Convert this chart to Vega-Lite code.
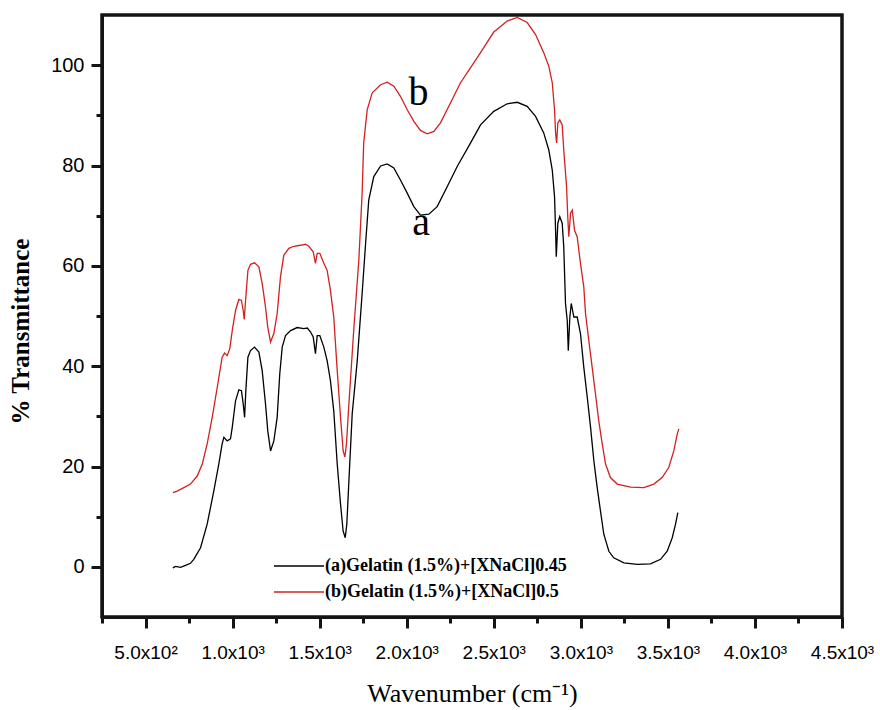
{
  "$schema": "https://vega.github.io/schema/vega-lite/v6.json",
  "width": 740,
  "height": 602,
  "autosize": {"type": "none"},
  "padding": {"left": 102, "top": 15, "right": 38, "bottom": 93},
  "background": "white",
  "config": {
    "view": {"stroke": "#141414", "strokeWidth": 3}
  },
  "datasets": {
    "spectra": [
      {"wn": 657, "t": -0.2, "s": "(a)Gelatin (1.5%)+[XNaCl]0.45"},
      {"wn": 672, "t": 0.1, "s": "(a)Gelatin (1.5%)+[XNaCl]0.45"},
      {"wn": 701, "t": -0.1, "s": "(a)Gelatin (1.5%)+[XNaCl]0.45"},
      {"wn": 730, "t": 0.3, "s": "(a)Gelatin (1.5%)+[XNaCl]0.45"},
      {"wn": 758, "t": 0.7, "s": "(a)Gelatin (1.5%)+[XNaCl]0.45"},
      {"wn": 777, "t": 1.5, "s": "(a)Gelatin (1.5%)+[XNaCl]0.45"},
      {"wn": 816, "t": 3.8, "s": "(a)Gelatin (1.5%)+[XNaCl]0.45"},
      {"wn": 854, "t": 8.5, "s": "(a)Gelatin (1.5%)+[XNaCl]0.45"},
      {"wn": 892, "t": 15.1, "s": "(a)Gelatin (1.5%)+[XNaCl]0.45"},
      {"wn": 921, "t": 20.5, "s": "(a)Gelatin (1.5%)+[XNaCl]0.45"},
      {"wn": 940, "t": 24.5, "s": "(a)Gelatin (1.5%)+[XNaCl]0.45"},
      {"wn": 950, "t": 25.8, "s": "(a)Gelatin (1.5%)+[XNaCl]0.45"},
      {"wn": 969, "t": 25.1, "s": "(a)Gelatin (1.5%)+[XNaCl]0.45"},
      {"wn": 988, "t": 25.5, "s": "(a)Gelatin (1.5%)+[XNaCl]0.45"},
      {"wn": 998, "t": 27.8, "s": "(a)Gelatin (1.5%)+[XNaCl]0.45"},
      {"wn": 1017, "t": 33.1, "s": "(a)Gelatin (1.5%)+[XNaCl]0.45"},
      {"wn": 1036, "t": 35.3, "s": "(a)Gelatin (1.5%)+[XNaCl]0.45"},
      {"wn": 1051, "t": 35.1, "s": "(a)Gelatin (1.5%)+[XNaCl]0.45"},
      {"wn": 1061, "t": 32.5, "s": "(a)Gelatin (1.5%)+[XNaCl]0.45"},
      {"wn": 1069, "t": 29.8, "s": "(a)Gelatin (1.5%)+[XNaCl]0.45"},
      {"wn": 1076, "t": 35.1, "s": "(a)Gelatin (1.5%)+[XNaCl]0.45"},
      {"wn": 1088, "t": 41.8, "s": "(a)Gelatin (1.5%)+[XNaCl]0.45"},
      {"wn": 1103, "t": 43.1, "s": "(a)Gelatin (1.5%)+[XNaCl]0.45"},
      {"wn": 1126, "t": 43.8, "s": "(a)Gelatin (1.5%)+[XNaCl]0.45"},
      {"wn": 1151, "t": 42.8, "s": "(a)Gelatin (1.5%)+[XNaCl]0.45"},
      {"wn": 1170, "t": 39.1, "s": "(a)Gelatin (1.5%)+[XNaCl]0.45"},
      {"wn": 1189, "t": 32.5, "s": "(a)Gelatin (1.5%)+[XNaCl]0.45"},
      {"wn": 1202, "t": 27.1, "s": "(a)Gelatin (1.5%)+[XNaCl]0.45"},
      {"wn": 1218, "t": 23.1, "s": "(a)Gelatin (1.5%)+[XNaCl]0.45"},
      {"wn": 1237, "t": 25.1, "s": "(a)Gelatin (1.5%)+[XNaCl]0.45"},
      {"wn": 1256, "t": 29.8, "s": "(a)Gelatin (1.5%)+[XNaCl]0.45"},
      {"wn": 1271, "t": 38.5, "s": "(a)Gelatin (1.5%)+[XNaCl]0.45"},
      {"wn": 1285, "t": 43.8, "s": "(a)Gelatin (1.5%)+[XNaCl]0.45"},
      {"wn": 1304, "t": 46.1, "s": "(a)Gelatin (1.5%)+[XNaCl]0.45"},
      {"wn": 1333, "t": 47.1, "s": "(a)Gelatin (1.5%)+[XNaCl]0.45"},
      {"wn": 1371, "t": 47.7, "s": "(a)Gelatin (1.5%)+[XNaCl]0.45"},
      {"wn": 1409, "t": 47.5, "s": "(a)Gelatin (1.5%)+[XNaCl]0.45"},
      {"wn": 1429, "t": 47.6, "s": "(a)Gelatin (1.5%)+[XNaCl]0.45"},
      {"wn": 1448, "t": 46.8, "s": "(a)Gelatin (1.5%)+[XNaCl]0.45"},
      {"wn": 1463, "t": 45.8, "s": "(a)Gelatin (1.5%)+[XNaCl]0.45"},
      {"wn": 1476, "t": 42.5, "s": "(a)Gelatin (1.5%)+[XNaCl]0.45"},
      {"wn": 1486, "t": 46.1, "s": "(a)Gelatin (1.5%)+[XNaCl]0.45"},
      {"wn": 1501, "t": 46.1, "s": "(a)Gelatin (1.5%)+[XNaCl]0.45"},
      {"wn": 1524, "t": 43.8, "s": "(a)Gelatin (1.5%)+[XNaCl]0.45"},
      {"wn": 1543, "t": 41.1, "s": "(a)Gelatin (1.5%)+[XNaCl]0.45"},
      {"wn": 1562, "t": 37.1, "s": "(a)Gelatin (1.5%)+[XNaCl]0.45"},
      {"wn": 1581, "t": 31.1, "s": "(a)Gelatin (1.5%)+[XNaCl]0.45"},
      {"wn": 1601, "t": 20.5, "s": "(a)Gelatin (1.5%)+[XNaCl]0.45"},
      {"wn": 1620, "t": 12.5, "s": "(a)Gelatin (1.5%)+[XNaCl]0.45"},
      {"wn": 1635, "t": 7.1, "s": "(a)Gelatin (1.5%)+[XNaCl]0.45"},
      {"wn": 1647, "t": 5.8, "s": "(a)Gelatin (1.5%)+[XNaCl]0.45"},
      {"wn": 1656, "t": 8.5, "s": "(a)Gelatin (1.5%)+[XNaCl]0.45"},
      {"wn": 1668, "t": 17.1, "s": "(a)Gelatin (1.5%)+[XNaCl]0.45"},
      {"wn": 1687, "t": 30.5, "s": "(a)Gelatin (1.5%)+[XNaCl]0.45"},
      {"wn": 1716, "t": 41.1, "s": "(a)Gelatin (1.5%)+[XNaCl]0.45"},
      {"wn": 1744, "t": 54.5, "s": "(a)Gelatin (1.5%)+[XNaCl]0.45"},
      {"wn": 1764, "t": 64.5, "s": "(a)Gelatin (1.5%)+[XNaCl]0.45"},
      {"wn": 1782, "t": 73.1, "s": "(a)Gelatin (1.5%)+[XNaCl]0.45"},
      {"wn": 1811, "t": 77.8, "s": "(a)Gelatin (1.5%)+[XNaCl]0.45"},
      {"wn": 1850, "t": 79.9, "s": "(a)Gelatin (1.5%)+[XNaCl]0.45"},
      {"wn": 1888, "t": 80.3, "s": "(a)Gelatin (1.5%)+[XNaCl]0.45"},
      {"wn": 1926, "t": 79.5, "s": "(a)Gelatin (1.5%)+[XNaCl]0.45"},
      {"wn": 1964, "t": 77.1, "s": "(a)Gelatin (1.5%)+[XNaCl]0.45"},
      {"wn": 2003, "t": 74.5, "s": "(a)Gelatin (1.5%)+[XNaCl]0.45"},
      {"wn": 2041, "t": 71.8, "s": "(a)Gelatin (1.5%)+[XNaCl]0.45"},
      {"wn": 2079, "t": 70.1, "s": "(a)Gelatin (1.5%)+[XNaCl]0.45"},
      {"wn": 2127, "t": 70.3, "s": "(a)Gelatin (1.5%)+[XNaCl]0.45"},
      {"wn": 2175, "t": 71.8, "s": "(a)Gelatin (1.5%)+[XNaCl]0.45"},
      {"wn": 2233, "t": 75.8, "s": "(a)Gelatin (1.5%)+[XNaCl]0.45"},
      {"wn": 2290, "t": 79.8, "s": "(a)Gelatin (1.5%)+[XNaCl]0.45"},
      {"wn": 2367, "t": 84.5, "s": "(a)Gelatin (1.5%)+[XNaCl]0.45"},
      {"wn": 2424, "t": 88.1, "s": "(a)Gelatin (1.5%)+[XNaCl]0.45"},
      {"wn": 2500, "t": 90.8, "s": "(a)Gelatin (1.5%)+[XNaCl]0.45"},
      {"wn": 2577, "t": 92.3, "s": "(a)Gelatin (1.5%)+[XNaCl]0.45"},
      {"wn": 2635, "t": 92.6, "s": "(a)Gelatin (1.5%)+[XNaCl]0.45"},
      {"wn": 2692, "t": 91.8, "s": "(a)Gelatin (1.5%)+[XNaCl]0.45"},
      {"wn": 2740, "t": 89.8, "s": "(a)Gelatin (1.5%)+[XNaCl]0.45"},
      {"wn": 2787, "t": 86.5, "s": "(a)Gelatin (1.5%)+[XNaCl]0.45"},
      {"wn": 2816, "t": 83.1, "s": "(a)Gelatin (1.5%)+[XNaCl]0.45"},
      {"wn": 2836, "t": 79.1, "s": "(a)Gelatin (1.5%)+[XNaCl]0.45"},
      {"wn": 2849, "t": 73.8, "s": "(a)Gelatin (1.5%)+[XNaCl]0.45"},
      {"wn": 2855, "t": 67.1, "s": "(a)Gelatin (1.5%)+[XNaCl]0.45"},
      {"wn": 2859, "t": 61.8, "s": "(a)Gelatin (1.5%)+[XNaCl]0.45"},
      {"wn": 2868, "t": 68.5, "s": "(a)Gelatin (1.5%)+[XNaCl]0.45"},
      {"wn": 2879, "t": 69.8, "s": "(a)Gelatin (1.5%)+[XNaCl]0.45"},
      {"wn": 2893, "t": 68.5, "s": "(a)Gelatin (1.5%)+[XNaCl]0.45"},
      {"wn": 2902, "t": 63.8, "s": "(a)Gelatin (1.5%)+[XNaCl]0.45"},
      {"wn": 2912, "t": 52.5, "s": "(a)Gelatin (1.5%)+[XNaCl]0.45"},
      {"wn": 2922, "t": 49.1, "s": "(a)Gelatin (1.5%)+[XNaCl]0.45"},
      {"wn": 2928, "t": 43.1, "s": "(a)Gelatin (1.5%)+[XNaCl]0.45"},
      {"wn": 2937, "t": 49.8, "s": "(a)Gelatin (1.5%)+[XNaCl]0.45"},
      {"wn": 2945, "t": 52.5, "s": "(a)Gelatin (1.5%)+[XNaCl]0.45"},
      {"wn": 2960, "t": 49.8, "s": "(a)Gelatin (1.5%)+[XNaCl]0.45"},
      {"wn": 2979, "t": 49.8, "s": "(a)Gelatin (1.5%)+[XNaCl]0.45"},
      {"wn": 2998, "t": 46.5, "s": "(a)Gelatin (1.5%)+[XNaCl]0.45"},
      {"wn": 3017, "t": 39.8, "s": "(a)Gelatin (1.5%)+[XNaCl]0.45"},
      {"wn": 3037, "t": 33.8, "s": "(a)Gelatin (1.5%)+[XNaCl]0.45"},
      {"wn": 3056, "t": 27.8, "s": "(a)Gelatin (1.5%)+[XNaCl]0.45"},
      {"wn": 3075, "t": 21.1, "s": "(a)Gelatin (1.5%)+[XNaCl]0.45"},
      {"wn": 3094, "t": 15.8, "s": "(a)Gelatin (1.5%)+[XNaCl]0.45"},
      {"wn": 3113, "t": 11.1, "s": "(a)Gelatin (1.5%)+[XNaCl]0.45"},
      {"wn": 3132, "t": 6.5, "s": "(a)Gelatin (1.5%)+[XNaCl]0.45"},
      {"wn": 3161, "t": 3.1, "s": "(a)Gelatin (1.5%)+[XNaCl]0.45"},
      {"wn": 3189, "t": 1.8, "s": "(a)Gelatin (1.5%)+[XNaCl]0.45"},
      {"wn": 3247, "t": 0.8, "s": "(a)Gelatin (1.5%)+[XNaCl]0.45"},
      {"wn": 3324, "t": 0.5, "s": "(a)Gelatin (1.5%)+[XNaCl]0.45"},
      {"wn": 3400, "t": 0.6, "s": "(a)Gelatin (1.5%)+[XNaCl]0.45"},
      {"wn": 3458, "t": 1.5, "s": "(a)Gelatin (1.5%)+[XNaCl]0.45"},
      {"wn": 3496, "t": 3.1, "s": "(a)Gelatin (1.5%)+[XNaCl]0.45"},
      {"wn": 3525, "t": 5.8, "s": "(a)Gelatin (1.5%)+[XNaCl]0.45"},
      {"wn": 3544, "t": 8.5, "s": "(a)Gelatin (1.5%)+[XNaCl]0.45"},
      {"wn": 3557, "t": 10.8, "s": "(a)Gelatin (1.5%)+[XNaCl]0.45"},
      {"wn": 657, "t": 14.8, "s": "(b)Gelatin (1.5%)+[XNaCl]0.5"},
      {"wn": 682, "t": 15.1, "s": "(b)Gelatin (1.5%)+[XNaCl]0.5"},
      {"wn": 720, "t": 15.8, "s": "(b)Gelatin (1.5%)+[XNaCl]0.5"},
      {"wn": 758, "t": 16.5, "s": "(b)Gelatin (1.5%)+[XNaCl]0.5"},
      {"wn": 797, "t": 18.1, "s": "(b)Gelatin (1.5%)+[XNaCl]0.5"},
      {"wn": 826, "t": 20.5, "s": "(b)Gelatin (1.5%)+[XNaCl]0.5"},
      {"wn": 854, "t": 24.5, "s": "(b)Gelatin (1.5%)+[XNaCl]0.5"},
      {"wn": 883, "t": 29.8, "s": "(b)Gelatin (1.5%)+[XNaCl]0.5"},
      {"wn": 912, "t": 35.8, "s": "(b)Gelatin (1.5%)+[XNaCl]0.5"},
      {"wn": 940, "t": 41.8, "s": "(b)Gelatin (1.5%)+[XNaCl]0.5"},
      {"wn": 954, "t": 42.6, "s": "(b)Gelatin (1.5%)+[XNaCl]0.5"},
      {"wn": 969, "t": 42.1, "s": "(b)Gelatin (1.5%)+[XNaCl]0.5"},
      {"wn": 984, "t": 43.5, "s": "(b)Gelatin (1.5%)+[XNaCl]0.5"},
      {"wn": 998, "t": 47.1, "s": "(b)Gelatin (1.5%)+[XNaCl]0.5"},
      {"wn": 1017, "t": 51.1, "s": "(b)Gelatin (1.5%)+[XNaCl]0.5"},
      {"wn": 1036, "t": 53.3, "s": "(b)Gelatin (1.5%)+[XNaCl]0.5"},
      {"wn": 1051, "t": 53.1, "s": "(b)Gelatin (1.5%)+[XNaCl]0.5"},
      {"wn": 1061, "t": 51.1, "s": "(b)Gelatin (1.5%)+[XNaCl]0.5"},
      {"wn": 1067, "t": 49.3, "s": "(b)Gelatin (1.5%)+[XNaCl]0.5"},
      {"wn": 1076, "t": 53.8, "s": "(b)Gelatin (1.5%)+[XNaCl]0.5"},
      {"wn": 1088, "t": 59.1, "s": "(b)Gelatin (1.5%)+[XNaCl]0.5"},
      {"wn": 1103, "t": 60.3, "s": "(b)Gelatin (1.5%)+[XNaCl]0.5"},
      {"wn": 1126, "t": 60.6, "s": "(b)Gelatin (1.5%)+[XNaCl]0.5"},
      {"wn": 1151, "t": 59.8, "s": "(b)Gelatin (1.5%)+[XNaCl]0.5"},
      {"wn": 1170, "t": 56.5, "s": "(b)Gelatin (1.5%)+[XNaCl]0.5"},
      {"wn": 1189, "t": 51.8, "s": "(b)Gelatin (1.5%)+[XNaCl]0.5"},
      {"wn": 1202, "t": 47.8, "s": "(b)Gelatin (1.5%)+[XNaCl]0.5"},
      {"wn": 1218, "t": 44.8, "s": "(b)Gelatin (1.5%)+[XNaCl]0.5"},
      {"wn": 1237, "t": 46.5, "s": "(b)Gelatin (1.5%)+[XNaCl]0.5"},
      {"wn": 1256, "t": 50.5, "s": "(b)Gelatin (1.5%)+[XNaCl]0.5"},
      {"wn": 1275, "t": 57.8, "s": "(b)Gelatin (1.5%)+[XNaCl]0.5"},
      {"wn": 1294, "t": 62.1, "s": "(b)Gelatin (1.5%)+[XNaCl]0.5"},
      {"wn": 1323, "t": 63.5, "s": "(b)Gelatin (1.5%)+[XNaCl]0.5"},
      {"wn": 1352, "t": 63.9, "s": "(b)Gelatin (1.5%)+[XNaCl]0.5"},
      {"wn": 1390, "t": 64.1, "s": "(b)Gelatin (1.5%)+[XNaCl]0.5"},
      {"wn": 1419, "t": 64.3, "s": "(b)Gelatin (1.5%)+[XNaCl]0.5"},
      {"wn": 1438, "t": 63.9, "s": "(b)Gelatin (1.5%)+[XNaCl]0.5"},
      {"wn": 1463, "t": 62.8, "s": "(b)Gelatin (1.5%)+[XNaCl]0.5"},
      {"wn": 1476, "t": 60.5, "s": "(b)Gelatin (1.5%)+[XNaCl]0.5"},
      {"wn": 1486, "t": 62.5, "s": "(b)Gelatin (1.5%)+[XNaCl]0.5"},
      {"wn": 1501, "t": 62.5, "s": "(b)Gelatin (1.5%)+[XNaCl]0.5"},
      {"wn": 1524, "t": 60.5, "s": "(b)Gelatin (1.5%)+[XNaCl]0.5"},
      {"wn": 1543, "t": 59.1, "s": "(b)Gelatin (1.5%)+[XNaCl]0.5"},
      {"wn": 1562, "t": 55.1, "s": "(b)Gelatin (1.5%)+[XNaCl]0.5"},
      {"wn": 1581, "t": 49.8, "s": "(b)Gelatin (1.5%)+[XNaCl]0.5"},
      {"wn": 1601, "t": 39.1, "s": "(b)Gelatin (1.5%)+[XNaCl]0.5"},
      {"wn": 1620, "t": 29.8, "s": "(b)Gelatin (1.5%)+[XNaCl]0.5"},
      {"wn": 1635, "t": 23.1, "s": "(b)Gelatin (1.5%)+[XNaCl]0.5"},
      {"wn": 1645, "t": 21.9, "s": "(b)Gelatin (1.5%)+[XNaCl]0.5"},
      {"wn": 1654, "t": 24.5, "s": "(b)Gelatin (1.5%)+[XNaCl]0.5"},
      {"wn": 1668, "t": 32.5, "s": "(b)Gelatin (1.5%)+[XNaCl]0.5"},
      {"wn": 1697, "t": 47.8, "s": "(b)Gelatin (1.5%)+[XNaCl]0.5"},
      {"wn": 1725, "t": 61.1, "s": "(b)Gelatin (1.5%)+[XNaCl]0.5"},
      {"wn": 1744, "t": 74.5, "s": "(b)Gelatin (1.5%)+[XNaCl]0.5"},
      {"wn": 1753, "t": 84.5, "s": "(b)Gelatin (1.5%)+[XNaCl]0.5"},
      {"wn": 1773, "t": 91.1, "s": "(b)Gelatin (1.5%)+[XNaCl]0.5"},
      {"wn": 1802, "t": 94.5, "s": "(b)Gelatin (1.5%)+[XNaCl]0.5"},
      {"wn": 1850, "t": 96.1, "s": "(b)Gelatin (1.5%)+[XNaCl]0.5"},
      {"wn": 1888, "t": 96.6, "s": "(b)Gelatin (1.5%)+[XNaCl]0.5"},
      {"wn": 1926, "t": 95.8, "s": "(b)Gelatin (1.5%)+[XNaCl]0.5"},
      {"wn": 1964, "t": 93.8, "s": "(b)Gelatin (1.5%)+[XNaCl]0.5"},
      {"wn": 2003, "t": 91.1, "s": "(b)Gelatin (1.5%)+[XNaCl]0.5"},
      {"wn": 2041, "t": 88.8, "s": "(b)Gelatin (1.5%)+[XNaCl]0.5"},
      {"wn": 2079, "t": 87.0, "s": "(b)Gelatin (1.5%)+[XNaCl]0.5"},
      {"wn": 2118, "t": 86.3, "s": "(b)Gelatin (1.5%)+[XNaCl]0.5"},
      {"wn": 2156, "t": 86.8, "s": "(b)Gelatin (1.5%)+[XNaCl]0.5"},
      {"wn": 2194, "t": 88.5, "s": "(b)Gelatin (1.5%)+[XNaCl]0.5"},
      {"wn": 2252, "t": 92.5, "s": "(b)Gelatin (1.5%)+[XNaCl]0.5"},
      {"wn": 2309, "t": 96.5, "s": "(b)Gelatin (1.5%)+[XNaCl]0.5"},
      {"wn": 2367, "t": 99.5, "s": "(b)Gelatin (1.5%)+[XNaCl]0.5"},
      {"wn": 2424, "t": 102.5, "s": "(b)Gelatin (1.5%)+[XNaCl]0.5"},
      {"wn": 2500, "t": 106.6, "s": "(b)Gelatin (1.5%)+[XNaCl]0.5"},
      {"wn": 2577, "t": 108.8, "s": "(b)Gelatin (1.5%)+[XNaCl]0.5"},
      {"wn": 2635, "t": 109.5, "s": "(b)Gelatin (1.5%)+[XNaCl]0.5"},
      {"wn": 2692, "t": 108.5, "s": "(b)Gelatin (1.5%)+[XNaCl]0.5"},
      {"wn": 2740, "t": 106.1, "s": "(b)Gelatin (1.5%)+[XNaCl]0.5"},
      {"wn": 2787, "t": 102.5, "s": "(b)Gelatin (1.5%)+[XNaCl]0.5"},
      {"wn": 2816, "t": 99.8, "s": "(b)Gelatin (1.5%)+[XNaCl]0.5"},
      {"wn": 2836, "t": 96.5, "s": "(b)Gelatin (1.5%)+[XNaCl]0.5"},
      {"wn": 2849, "t": 91.1, "s": "(b)Gelatin (1.5%)+[XNaCl]0.5"},
      {"wn": 2855, "t": 86.5, "s": "(b)Gelatin (1.5%)+[XNaCl]0.5"},
      {"wn": 2861, "t": 84.5, "s": "(b)Gelatin (1.5%)+[XNaCl]0.5"},
      {"wn": 2868, "t": 88.5, "s": "(b)Gelatin (1.5%)+[XNaCl]0.5"},
      {"wn": 2879, "t": 89.1, "s": "(b)Gelatin (1.5%)+[XNaCl]0.5"},
      {"wn": 2893, "t": 88.1, "s": "(b)Gelatin (1.5%)+[XNaCl]0.5"},
      {"wn": 2902, "t": 83.1, "s": "(b)Gelatin (1.5%)+[XNaCl]0.5"},
      {"wn": 2918, "t": 75.8, "s": "(b)Gelatin (1.5%)+[XNaCl]0.5"},
      {"wn": 2925, "t": 69.8, "s": "(b)Gelatin (1.5%)+[XNaCl]0.5"},
      {"wn": 2931, "t": 65.8, "s": "(b)Gelatin (1.5%)+[XNaCl]0.5"},
      {"wn": 2941, "t": 70.5, "s": "(b)Gelatin (1.5%)+[XNaCl]0.5"},
      {"wn": 2951, "t": 71.1, "s": "(b)Gelatin (1.5%)+[XNaCl]0.5"},
      {"wn": 2964, "t": 67.1, "s": "(b)Gelatin (1.5%)+[XNaCl]0.5"},
      {"wn": 2979, "t": 65.8, "s": "(b)Gelatin (1.5%)+[XNaCl]0.5"},
      {"wn": 2998, "t": 60.5, "s": "(b)Gelatin (1.5%)+[XNaCl]0.5"},
      {"wn": 3017, "t": 55.8, "s": "(b)Gelatin (1.5%)+[XNaCl]0.5"},
      {"wn": 3027, "t": 50.5, "s": "(b)Gelatin (1.5%)+[XNaCl]0.5"},
      {"wn": 3046, "t": 45.1, "s": "(b)Gelatin (1.5%)+[XNaCl]0.5"},
      {"wn": 3065, "t": 39.8, "s": "(b)Gelatin (1.5%)+[XNaCl]0.5"},
      {"wn": 3084, "t": 34.5, "s": "(b)Gelatin (1.5%)+[XNaCl]0.5"},
      {"wn": 3103, "t": 29.1, "s": "(b)Gelatin (1.5%)+[XNaCl]0.5"},
      {"wn": 3123, "t": 24.5, "s": "(b)Gelatin (1.5%)+[XNaCl]0.5"},
      {"wn": 3142, "t": 20.5, "s": "(b)Gelatin (1.5%)+[XNaCl]0.5"},
      {"wn": 3170, "t": 17.8, "s": "(b)Gelatin (1.5%)+[XNaCl]0.5"},
      {"wn": 3209, "t": 16.5, "s": "(b)Gelatin (1.5%)+[XNaCl]0.5"},
      {"wn": 3285, "t": 15.9, "s": "(b)Gelatin (1.5%)+[XNaCl]0.5"},
      {"wn": 3362, "t": 15.8, "s": "(b)Gelatin (1.5%)+[XNaCl]0.5"},
      {"wn": 3419, "t": 16.5, "s": "(b)Gelatin (1.5%)+[XNaCl]0.5"},
      {"wn": 3467, "t": 17.8, "s": "(b)Gelatin (1.5%)+[XNaCl]0.5"},
      {"wn": 3505, "t": 19.8, "s": "(b)Gelatin (1.5%)+[XNaCl]0.5"},
      {"wn": 3534, "t": 23.1, "s": "(b)Gelatin (1.5%)+[XNaCl]0.5"},
      {"wn": 3554, "t": 26.5, "s": "(b)Gelatin (1.5%)+[XNaCl]0.5"},
      {"wn": 3563, "t": 27.5, "s": "(b)Gelatin (1.5%)+[XNaCl]0.5"}
    ],
    "labels": [
      {"wn": 2068, "t": 94.5, "label": "b"},
      {"wn": 2083, "t": 68.5, "label": "a"}
    ],
    "frame": [
      {"x1": 250, "x2": 4500, "y1": -10, "y2": 110}
    ]
  },
  "layer": [
    {
      "data": {"name": "spectra"},
      "mark": {"type": "line", "strokeWidth": 1.3, "interpolate": "linear"},
      "encoding": {
        "x": {
          "field": "wn", "type": "quantitative",
          "scale": {"domain": [250, 4500], "nice": false, "zero": false},
          "axis": {
            "title": "Wavenumber (cm⁻¹)",
            "values": [250, 500, 750, 1000, 1250, 1500, 1750, 2000, 2250, 2500, 2750, 3000, 3250, 3500, 3750, 4000, 4250, 4500],
            "labelExpr": "datum.value % 500 !== 0 ? '' : (datum.value == 500 ? '5.0x10²' : format(datum.value / 1000, '.1f') + 'x10³')",
            "tickSize": {"condition": {"test": "datum.value % 500 !== 0", "value": 6}, "value": 11},
            "domainColor": "#141414", "domainWidth": 3, "tickColor": "#141414", "tickWidth": 3, "grid": false,
            "labelColor": "#000000", "titleColor": "#000000",
            "labelFont": "Liberation Sans", "labelFontSize": 19, "labelPadding": 15, "labelFlush": false, "labelOverlap": false,
            "titleFont": "Liberation Serif", "titleFontSize": 26, "titleFontWeight": "normal",
            "titleY": 76, "titleBaseline": "middle"
          }
        },
        "y": {
          "field": "t", "type": "quantitative",
          "scale": {"domain": [-10, 110], "nice": false, "zero": false},
          "axis": {
            "title": "% Transmittance",
            "values": [0, 10, 20, 30, 40, 50, 60, 70, 80, 90, 100],
            "labelExpr": "datum.value % 20 !== 0 ? '' : datum.value",
            "tickSize": {"condition": {"test": "datum.value % 20 !== 0", "value": 6}, "value": 11},
            "domainColor": "#141414", "domainWidth": 3, "tickColor": "#141414", "tickWidth": 3, "grid": false,
            "labelColor": "#000000", "titleColor": "#000000",
            "labelFont": "Liberation Sans", "labelFontSize": 20, "labelPadding": 7, "labelOverlap": false,
            "titleFont": "Liberation Serif", "titleFontSize": 25, "titleFontWeight": "bold",
            "titleX": -82, "titleY": 316, "titleBaseline": "middle", "titleAlign": "center", "titleAngle": -90
          }
        },
        "color": {
          "field": "s", "type": "nominal",
          "scale": {"domain": ["(a)Gelatin (1.5%)+[XNaCl]0.45", "(b)Gelatin (1.5%)+[XNaCl]0.5"], "range": ["#000000", "#d42020"]},
          "legend": {
            "title": null, "orient": "none", "legendX": 188, "legendY": 542,
            "symbolType": "M -5 0 L 5 0", "symbolSize": 100, "symbolStrokeWidth": 1.5,
            "labelFont": "Liberation Serif", "labelFontWeight": "bold", "labelFontSize": 18, "labelColor": "#000000",
            "labelOffset": 17, "rowPadding": 8, "labelLimit": 400
          }
        }
      }
    },
    {
      "data": {"name": "labels"},
      "mark": {"type": "text", "font": "Liberation Serif", "fontSize": 40, "align": "center", "baseline": "middle", "color": "#000000"},
      "encoding": {
        "x": {"field": "wn", "type": "quantitative"},
        "y": {"field": "t", "type": "quantitative"},
        "text": {"field": "label"}
      }
    },
    {
      "data": {"name": "frame"},
      "mark": {"type": "rect", "fillOpacity": 0, "stroke": "#141414", "strokeWidth": 3},
      "encoding": {
        "x": {"field": "x1", "type": "quantitative"},
        "x2": {"field": "x2"},
        "y": {"field": "y1", "type": "quantitative"},
        "y2": {"field": "y2"}
      }
    }
  ]
}
